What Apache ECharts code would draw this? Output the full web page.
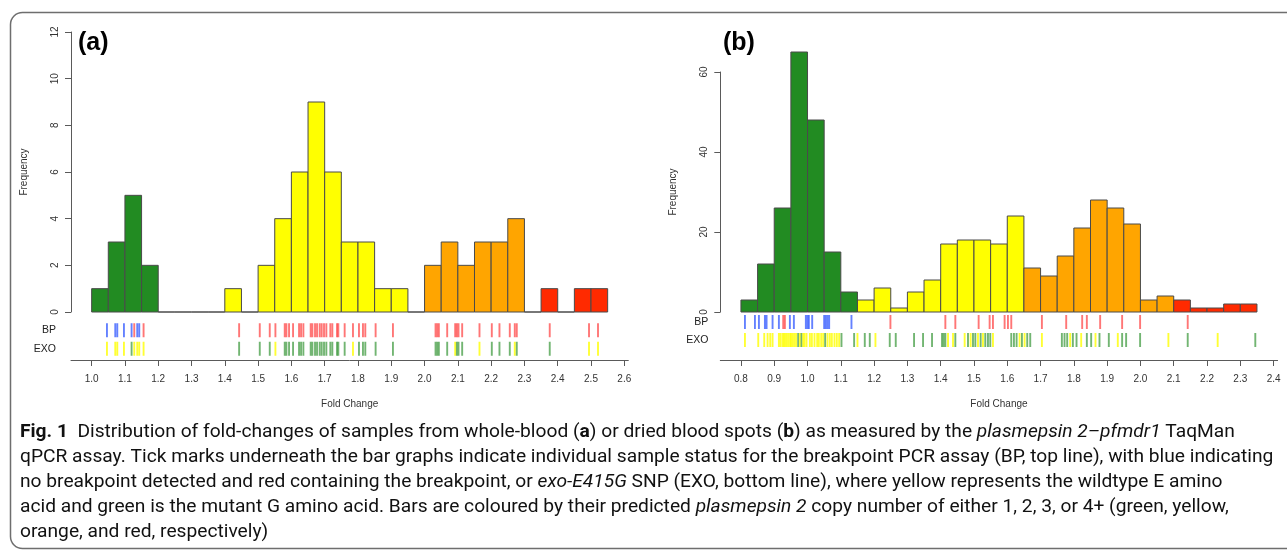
<!DOCTYPE html>
<html>
<head>
<meta charset="utf-8">
<script src="https://cdn.jsdelivr.net/npm/echarts@6/dist/echarts.min.js"></script>
<style>
html,body{margin:0;padding:0;background:#fff;}
#c{width:1287px;height:555px;}
</style>
</head>
<body>
<div id="c"></div>
<script>
// ---------------- DATA ----------------
const binWidth = 0.05;

// Panel (a): whole blood
const aBinStarts = [1.00,1.05,1.10,1.15,1.20,1.25,1.30,1.35,1.40,1.45,1.50,1.55,1.60,1.65,1.70,1.75,1.80,1.85,1.90,1.95,2.00,2.05,2.10,2.15,2.20,2.25,2.30,2.35,2.40,2.45,2.50];
const aCounts    = [1,3,5,2, 0,0,0,0, 1,0,2,4,6,9,6,3,3,1,1,0, 2,3,2,3,3,4, 0,1,0,1,1];
const aCopy      = [1,1,1,1, 2,2,2,2, 2,2,2,2,2,2,2,2,2,2,2,2, 3,3,3,3,3,3, 3,4,4,4,4];
const aTicks     = [1.0,1.1,1.2,1.3,1.4,1.5,1.6,1.7,1.8,1.9,2.0,2.1,2.2,2.3,2.4,2.5,2.6];

const aBPValues = [1.046,1.071,1.077,1.097,1.120,1.128,1.137,1.143,1.156,1.443,1.505,1.535,1.552,1.580,1.585,1.593,1.605,1.623,1.629,1.636,1.658,1.663,1.671,1.677,1.685,1.691,1.698,1.705,1.717,1.723,1.737,1.741,1.760,1.785,1.803,1.815,1.822,1.853,1.905,2.033,2.038,2.043,2.068,2.092,2.097,2.102,2.113,2.165,2.202,2.225,2.256,2.271,2.277,2.376,2.494,2.521];
const aBPStatus = ['b','b','b','b','b','r','b','b','r','r','r','r','r','r','r','r','r','r','r','r','r','r','r','r','r','r','r','r','r','r','r','r','r','r','r','r','r','r','r','r','r','r','r','r','r','r','r','r','r','r','r','r','r','r','r','r'];
const aEXOValues = aBPValues;
const aEXOStatus = ['y','y','y','y','g','y','y','y','y','g','g','g','y','g','g','g','g','g','g','g','g','g','g','g','g','g','g','g','g','g','g','g','g','y','g','g','g','g','g','g','g','g','g','y','g','g','g','y','g','g','g','y','g','g','y','y'];

// Panel (b): dried blood spots
const bBinStarts = [0.80,0.85,0.90,0.95,1.00,1.05,1.10,1.15,1.20,1.25,1.30,1.35,1.40,1.45,1.50,1.55,1.60,1.65,1.70,1.75,1.80,1.85,1.90,1.95,2.00,2.05,2.10,2.15,2.20,2.25,2.30];
const bCounts    = [3,12,26,65,48,15,5, 3,6,1,5,8,17,18,18,17,24, 11,9,14,21,28,26,22,3,4, 3,1,1,2,2];
const bCopy      = [1,1,1,1,1,1,1, 2,2,2,2,2,2,2,2,2,2, 3,3,3,3,3,3,3,3,3, 4,4,4,4,4];
const bTicks     = [0.8,0.9,1.0,1.1,1.2,1.3,1.4,1.5,1.6,1.7,1.8,1.9,2.0,2.1,2.2,2.3,2.4];

const bBPValues = [0.812,0.842,0.854,0.872,0.877,0.895,0.914,0.927,0.932,0.947,0.959,0.995,1.000,1.004,1.014,1.050,1.055,1.060,1.065,1.132,1.249,1.414,1.444,1.514,1.547,1.557,1.592,1.602,1.612,1.704,1.777,1.825,1.839,1.879,1.945,1.999,2.142];
const bBPStatus = ['b','b','b','b','b','b','b','r','r','b','b','b','b','b','b','b','b','b','b','b','r','r','r','r','r','r','r','r','r','r','r','r','r','r','r','r','r'];
const bEXOValues = [0.812,0.852,0.870,0.880,0.888,0.895,0.914,0.919,0.925,0.929,0.933,0.938,0.943,0.948,0.951,0.956,0.961,0.966,0.972,0.977,0.982,0.987,0.991,0.997,1.007,1.013,1.021,1.029,1.034,1.041,1.047,1.053,1.060,1.067,1.073,1.081,1.088,1.095,1.102,1.140,1.150,1.172,1.187,1.204,1.247,1.265,1.320,1.347,1.374,1.404,1.409,1.414,1.422,1.437,1.444,1.472,1.482,1.490,1.497,1.504,1.512,1.520,1.527,1.534,1.542,1.549,1.557,1.612,1.620,1.628,1.637,1.644,1.652,1.660,1.669,1.704,1.764,1.772,1.780,1.789,1.797,1.808,1.822,1.839,1.852,1.865,1.877,1.905,1.932,1.945,1.957,1.999,2.084,2.142,2.232,2.345];
const bEXOStatus = ['y','y','y','y','y','y','y','y','y','y','y','y','y','y','y','y','y','y','g','y','g','y','y','y','y','y','y','y','y','y','y','g','y','y','y','y','y','y','g','g','y','g','g','y','g','g','g','g','g','g','g','g','y','y','g','y','g','y','g','g','y','g','y','g','g','g','y','g','g','g','y','g','y','g','g','y','g','g','g','y','g','g','y','g','g','y','g','g','y','g','g','g','y','g','y','g'];

const rowNames = ['EXO','BP'];

// ---------------- STYLE ----------------
const COPY_COLORS = {1:'#228b22', 2:'#ffff00', 3:'#ffa500', 4:'#ff2a00'};
const RUG_COLORS = {b:'rgba(40,80,255,0.9)', r:'rgba(255,40,40,0.8)', y:'rgba(255,255,0,1)', g:'rgba(34,139,34,0.8)'};
const AX = '#5a5a5a';
const TXT = '#333';
const AXFONT = 'Liberation Sans, Arial, sans-serif';

const chart = echarts.init(document.getElementById('c'), null, {renderer:'canvas'});

function histSeries(starts, counts, copy, xi, yi){
  return {
    type:'custom', xAxisIndex:xi, yAxisIndex:yi, clip:false, silent:true,
    data: starts.map((s,i)=>[s, s+binWidth, counts[i], copy[i]]),
    encode:{x:[0,1], y:2},
    renderItem(params, api){
      const p0 = api.coord([api.value(0), api.value(2)]);
      const p1 = api.coord([api.value(1), 0]);
      return {type:'rect',
        shape:{x:p0[0], y:p0[1], width:p1[0]-p0[0], height:p1[1]-p0[1]},
        style:{fill:COPY_COLORS[api.value(3)], stroke:'#4a4a4a', lineWidth:1}};
    }
  };
}
function rugSeries(values, status, row, xi, yi){
  return {
    type:'scatter', xAxisIndex:xi, yAxisIndex:yi, silent:true,
    symbol:'rect', symbolSize:[1.9,14],
    data: values.map((v,i)=>({value:[v,row], itemStyle:{color:RUG_COLORS[status[i]]}}))
  };
}
function barY(grid, max, interval){
  return {gridIndex:grid, type:'value', min:0, max:max, interval:interval,
    axisLine:{show:true, lineStyle:{color:AX}}, axisTick:{show:true, length:6, lineStyle:{color:AX}},
    axisLabel:{rotate:90, fontSize:10, color:TXT, margin:11, fontFamily:AXFONT},
    splitLine:{show:false},
    name:'Frequency', nameLocation:'middle', nameGap:42, nameRotate:90,
    nameTextStyle:{fontSize:10, color:TXT, fontFamily:AXFONT}};
}
function hiddenX(grid, min, max){
  return {gridIndex:grid, type:'value', min:min, max:max, show:false, splitLine:{show:false}};
}
function rugX(grid, min, max, ticks, offset){
  return {gridIndex:grid, type:'value', min:min, max:max, offset:offset, position:'bottom',
    axisLine:{show:true, onZero:false, lineStyle:{color:AX}},
    axisTick:{show:true, length:6, customValues:ticks, lineStyle:{color:AX}},
    axisLabel:{customValues:ticks, formatter:v=>v.toFixed(1), fontSize:10, color:TXT, margin:14, fontFamily:AXFONT},
    splitLine:{show:false},
    name:'Fold Change', nameLocation:'middle', nameGap:39,
    nameTextStyle:{fontSize:10, color:TXT, fontFamily:AXFONT}};
}
function rugY(grid, margin){
  return {gridIndex:grid, type:'category', data:rowNames,
    axisLine:{show:false}, axisTick:{show:false},
    axisLabel:{fontSize:10.5, color:'#222', margin:margin, fontFamily:AXFONT},
    splitLine:{show:false}};
}

const capFont = 'Roboto, "Noto Sans", sans-serif';
const CAP_SIZE = 19.2;
const capRich = {
  fb:{fontWeight:'bold', fontSize:CAP_SIZE, fontFamily:capFont, fill:'#111'},
  b:{fontWeight:'bold', fontSize:CAP_SIZE, fontFamily:capFont, fill:'#111'},
  i:{fontStyle:'italic', fontSize:CAP_SIZE, fontFamily:capFont, fill:'#111'}
};
const captionLines = [
  '{fb|Fig. 1}  Distribution of fold-changes of samples from whole-blood ({b|a}) or dried blood spots ({b|b}) as measured by the {i|plasmepsin 2–pfmdr1} TaqMan',
  'qPCR assay. Tick marks underneath the bar graphs indicate individual sample status for the breakpoint PCR assay (BP, top line), with blue indicating',
  'no breakpoint detected and red containing the breakpoint, or {i|exo-E415G} SNP (EXO, bottom line), where yellow represents the wildtype E amino',
  'acid and green is the mutant G amino acid. Bars are coloured by their predicted {i|plasmepsin 2} copy number of either 1, 2, 3, or 4+ (green, yellow,',
  'orange, and red, respectively)'
];
const captionGraphics = captionLines.map((t,i)=>({
  type:'text', x:20, y:432 + i*25, silent:true,
  style:{text:t, rich:capRich, fontSize:CAP_SIZE, fontFamily:capFont, fill:'#111', verticalAlign:'middle'}
}));

const option = {
  animation:false,
  backgroundColor:'#fff',
  grid:[
    {left:71, top:32, width:557.3, height:280, outerBoundsMode:'none'},
    {left:71, top:321, width:557.3, height:37, outerBoundsMode:'none'},
    {left:720.3, top:72, width:557.3, height:240, outerBoundsMode:'none'},
    {left:720.3, top:313, width:557.3, height:36, outerBoundsMode:'none'}
  ],
  xAxis:[
    hiddenX(0, 0.938, 2.612),
    rugX(1, 0.938, 2.612, aTicks, 2),
    hiddenX(2, 0.738, 2.412),
    rugX(3, 0.738, 2.412, bTicks, 11)
  ],
  yAxis:[
    barY(0, 12, 2),
    rugY(1, 15),
    barY(2, 60, 20),
    rugY(3, 12)
  ],
  series:[
    histSeries(aBinStarts, aCounts, aCopy, 0, 0),
    rugSeries(aBPValues, aBPStatus, 'BP', 1, 1),
    rugSeries(aEXOValues, aEXOStatus, 'EXO', 1, 1),
    histSeries(bBinStarts, bCounts, bCopy, 2, 2),
    rugSeries(bBPValues, bBPStatus, 'BP', 3, 3),
    rugSeries(bEXOValues, bEXOStatus, 'EXO', 3, 3)
  ],
  graphic:[
    {type:'rect', silent:true, shape:{x:10.5, y:12.5, width:1290, height:536, r:12},
     style:{fill:'none', stroke:'#6e6e6e', lineWidth:1.5}},
    {type:'text', left:78, top:31, silent:true,
     style:{text:'(a)', fontSize:25, fontWeight:'bold', fontFamily:AXFONT, fill:'#000'}},
    {type:'text', left:723, top:31, silent:true,
     style:{text:'(b)', fontSize:25, fontWeight:'bold', fontFamily:AXFONT, fill:'#000'}}
  ].concat(captionGraphics)
};
chart.setOption(option);
</script>
</body>
</html>
